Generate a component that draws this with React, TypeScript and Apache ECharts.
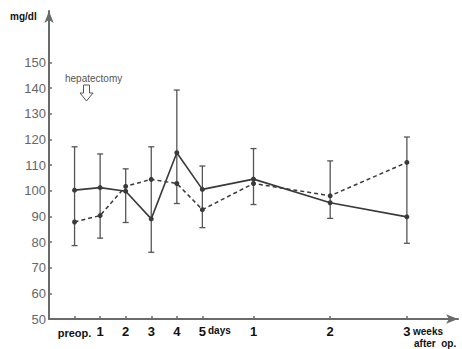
import React, { useEffect, useRef } from "react";
import * as echarts from "echarts";

const timeLabels = ["preop.", "1", "2", "3", "4", "5", "1", "2", "3"];
const timePoints = [0, 1, 2, 3, 4, 5, 7, 10, 13];
const solidMeans = [100.2, 101.2, 99.8, 89.0, 114.8, 100.5, 104.5, 95.3, 89.8];
const dashedMeans = [87.8, 90.3, 101.7, 104.4, 102.8, 92.6, 102.8, 98.0, 111.0];
const errHigh = [117.1, 114.3, 108.5, 117.1, 139.2, 109.6, 116.4, 111.6, 120.9];
const errLow = [78.6, 81.5, 87.6, 76.0, 95.0, 85.6, 94.6, 89.2, 79.5];
const yTicks = [50, 60, 70, 80, 90, 100, 110, 120, 130, 140, 150];

const FONT = "'Liberation Sans', Arial, sans-serif";

export default function App() {
  const ref = useRef<HTMLDivElement>(null);
  useEffect(() => {
    if (!ref.current) return;
    const chart = echarts.init(ref.current, null, { renderer: "svg" });
    const labelMap: Record<number, string> = {};
    timePoints.forEach((t, i) => (labelMap[t] = timeLabels[i]));
    const axisColor = "#6a6a6a";
    const lineColor = "#3a3a3a";
    chart.setOption({
      animation: false,
      backgroundColor: "#ffffff",
      grid: { left: 49, right: 4, top: 11, bottom: 30, containLabel: false },
      xAxis: {
        type: "value",
        min: -1,
        max: 15,
        splitLine: { show: false },
        axisLine: {
          show: true,
          onZero: false,
          lineStyle: { color: axisColor, width: 2 },
          symbol: ["none", "arrow"],
          symbolSize: [7, 12],
        },
        axisTick: {
          show: true,
          inside: true,
          length: 3,
          customValues: timePoints,
          lineStyle: { color: axisColor, width: 1.5 },
        },
        axisLabel: {
          show: true,
          customValues: timePoints,
          margin: 6,
          formatter: (v: number) => {
            const s = labelMap[v] ?? "";
            return s === "preop." ? "{p|preop.}" : s;
          },
          rich: {
            p: { fontSize: 11, fontWeight: "bold", fontFamily: FONT, color: "#111", padding: [2, 0, 0, 0] },
          },
          color: "#111",
          fontFamily: FONT,
          fontWeight: "bold",
          fontSize: 13,
        },
      },
      yAxis: {
        type: "value",
        min: 50,
        max: 170,
        interval: 10,
        splitLine: { show: false },
        axisLine: {
          show: true,
          onZero: false,
          lineStyle: { color: axisColor, width: 2 },
          symbol: ["none", "arrow"],
          symbolSize: [7, 12],
        },
        axisTick: {
          show: true,
          inside: true,
          length: 3,
          customValues: yTicks,
          lineStyle: { color: axisColor, width: 1.5 },
        },
        axisLabel: {
          show: true,
          customValues: yTicks,
          margin: 3,
          color: "#666",
          fontFamily: FONT,
          fontSize: 13,
        },
      },
      graphic: [
        {
          type: "text",
          left: 10,
          top: 11,
          style: { text: "mg/dl", fill: "#111", font: `bold 10px ${FONT}` },
        },
        {
          type: "text",
          left: 65,
          top: 73,
          style: { text: "hepatectomy", fill: "#555", font: `10px ${FONT}` },
        },
        {
          type: "polygon",
          shape: {
            points: [
              [83.5, 85],
              [89.5, 85],
              [89.5, 93],
              [93, 93],
              [86.5, 101],
              [80, 93],
              [83.5, 93],
            ],
          },
          style: { fill: "#fff", stroke: "#555", lineWidth: 1 },
        },
        {
          type: "text",
          left: 208,
          top: 325,
          style: { text: "days", fill: "#111", font: `bold 10px ${FONT}` },
        },
        {
          type: "text",
          left: 413,
          top: 326,
          style: { text: "weeks", fill: "#111", font: `bold 10px ${FONT}` },
        },
        {
          type: "text",
          left: 414,
          top: 338,
          style: { text: "after  op.", fill: "#111", font: `bold 10px ${FONT}` },
        },
      ],
      series: [
        {
          type: "custom",
          data: timePoints.map((t, i) => [t, errLow[i], errHigh[i]]),
          renderItem: (params: any, api: any) => {
            const x = api.value(0);
            const lo = api.coord([x, api.value(1)]);
            const hi = api.coord([x, api.value(2)]);
            const w = 3;
            const st = { stroke: "#555", lineWidth: 1.3 };
            return {
              type: "group",
              children: [
                { type: "line", shape: { x1: lo[0], y1: lo[1], x2: hi[0], y2: hi[1] }, style: st },
                { type: "line", shape: { x1: hi[0] - w, y1: hi[1], x2: hi[0] + w, y2: hi[1] }, style: st },
                { type: "line", shape: { x1: lo[0] - w, y1: lo[1], x2: lo[0] + w, y2: lo[1] }, style: st },
              ],
            };
          },
          z: 1,
        },
        {
          type: "line",
          data: timePoints.map((t, i) => [t, solidMeans[i]]),
          symbol: "circle",
          symbolSize: 5,
          itemStyle: { color: lineColor },
          lineStyle: { color: lineColor, width: 1.6 },
          z: 3,
        },
        {
          type: "line",
          data: timePoints.map((t, i) => [t, dashedMeans[i]]),
          symbol: "circle",
          symbolSize: 5,
          itemStyle: { color: lineColor },
          lineStyle: { color: lineColor, width: 1.5, type: [4, 3] },
          z: 3,
        },
      ],
    });
    return () => chart.dispose();
  }, []);
  return <div ref={ref} style={{ width: 462, height: 349, position: "absolute", left: 0, top: 0 }} />;
}
